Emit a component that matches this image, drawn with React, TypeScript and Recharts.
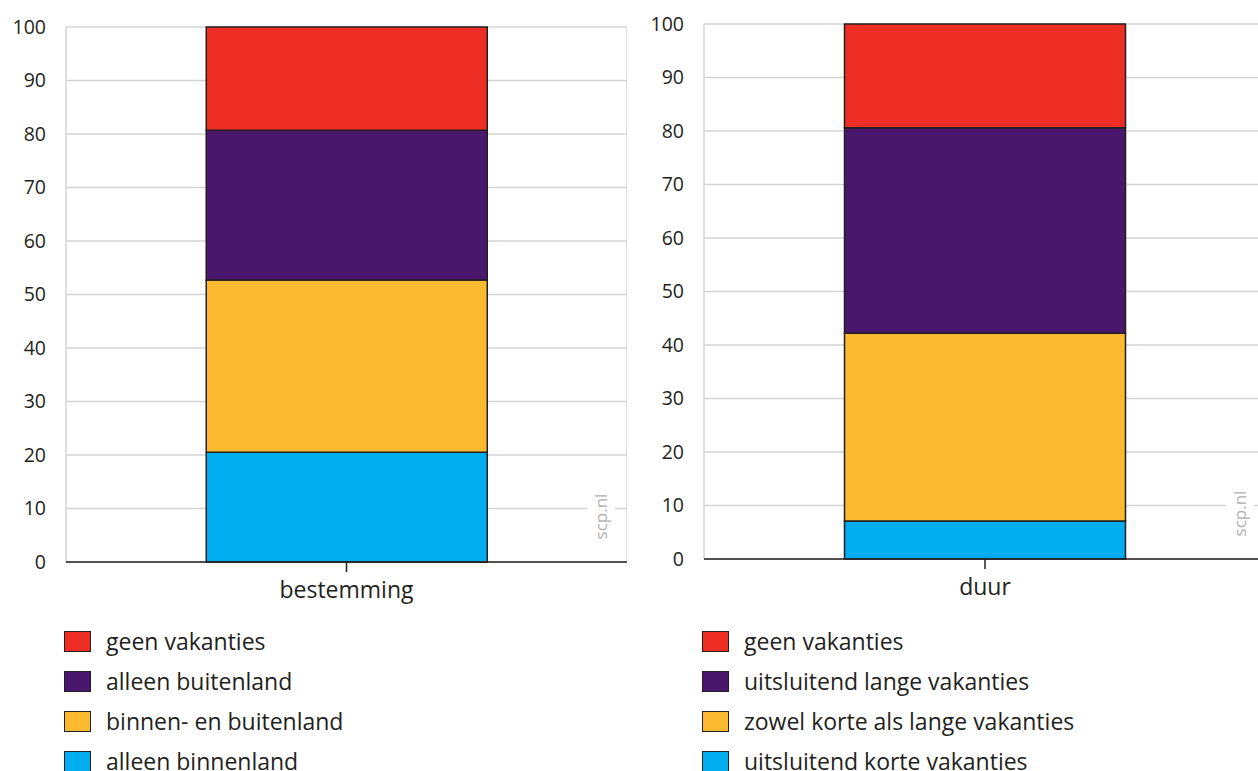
import React from "react";
import { BarChart, Bar, XAxis, YAxis, CartesianGrid } from "recharts";

const leftCategories = ["bestemming"];
const leftNames = ["alleen binnenland", "binnen- en buitenland", "alleen buitenland", "geen vakanties"];
const leftValues = [20.5, 32.2, 28.0, 19.3];

const rightCategories = ["duur"];
const rightNames = ["uitsluitend korte vakanties", "zowel korte als lange vakanties", "uitsluitend lange vakanties", "geen vakanties"];
const rightValues = [7.1, 35.1, 38.4, 19.4];

const seriesColors = ["#00adee", "#fbba30", "#49176b", "#ee2e24"];
const yTicks = [0, 10, 20, 30, 40, 50, 60, 70, 80, 90, 100];

const FONT = "'Open Sans', sans-serif";
const TEXT = "#231f20";
const GRID = "#d4d4d4";

function buildRow(cat: string, values: number[]) {
    const row: Record<string, string | number> = { cat };
    values.forEach((v, i) => (row[`s${i}`] = v));
    return row;
}

function StackPanel({ category, values, names, left, width, top, yWidth, legendLeft, markRight }: {
    category: string; values: number[]; names: string[]; left: number; width: number; top: number; yWidth: number;
    legendLeft: number; markRight: number;
}) {
    const data = [buildRow(category, values)];
    const plotBottom = top + 535;
    return (
        <>
            <div style={{ position: "absolute", left, top: 0 }}>
                <BarChart width={width} height={771} data={data} barCategoryGap="25%"
                    margin={{ top, right: 0, left: 0, bottom: 771 - plotBottom - 50 }}>
                    <CartesianGrid stroke={GRID} strokeWidth={1.5} horizontal={true} vertical={true}
                        verticalCoordinatesGenerator={({ offset }: any) => [offset.left, offset.left + offset.width]} />
                    <XAxis dataKey="cat" height={50} stroke={TEXT} strokeWidth={1.5} tickSize={10} tickMargin={10}
                        tick={{ fill: TEXT, fontSize: 23, fontFamily: FONT }} />
                    <YAxis type="number" domain={[0, 100]} ticks={yTicks} width={yWidth} axisLine={false} tickLine={false}
                        tickSize={0} tickMargin={20} interval={0}
                        tick={{ fill: TEXT, fontSize: 19.5, fontFamily: FONT }} />
                    {values.map((_, i) => (
                        <Bar key={i} dataKey={`s${i}`} stackId="a" fill={seriesColors[i]} stroke={TEXT} strokeWidth={1.5}
                            isAnimationActive={false} />
                    ))}
                </BarChart>
            </div>
            <div style={{
                position: "absolute", left: markRight - 40, top: plotBottom - 77, width: 28, height: 62,
                background: "#fff", display: "flex", alignItems: "center", justifyContent: "center"
            }}>
                <span style={{ transform: "rotate(-90deg)", color: "#b0b0b0", fontFamily: FONT, fontSize: 17, whiteSpace: "nowrap" }}>scp.nl</span>
            </div>
            <div style={{ position: "absolute", left: legendLeft, top: 621, fontFamily: FONT, fontSize: 23, color: TEXT }}>
                {names.map((n, i) => names.length - 1 - i).map((idx) => (
                    <div key={idx} style={{ display: "flex", alignItems: "center", height: 40 }}>
                        <span style={{ width: 25, height: 19, background: seriesColors[idx], border: `1.5px solid ${TEXT}`, marginRight: 15 }} />
                        <span>{names[idx]}</span>
                    </div>
                ))}
            </div>
        </>
    );
}

export default function App() {
    return (
        <div style={{ position: "absolute", left: 0, top: 0, width: 1258, height: 771, background: "#fff", overflow: "hidden" }}>
            <StackPanel category={leftCategories[0]} values={leftValues} names={leftNames}
                left={0} width={627} top={27} yWidth={66} legendLeft={64} markRight={627} />
            <StackPanel category={rightCategories[0]} values={rightValues} names={rightNames}
                left={640} width={626} top={24} yWidth={64} legendLeft={702} markRight={1266} />
        </div>
    );
}
